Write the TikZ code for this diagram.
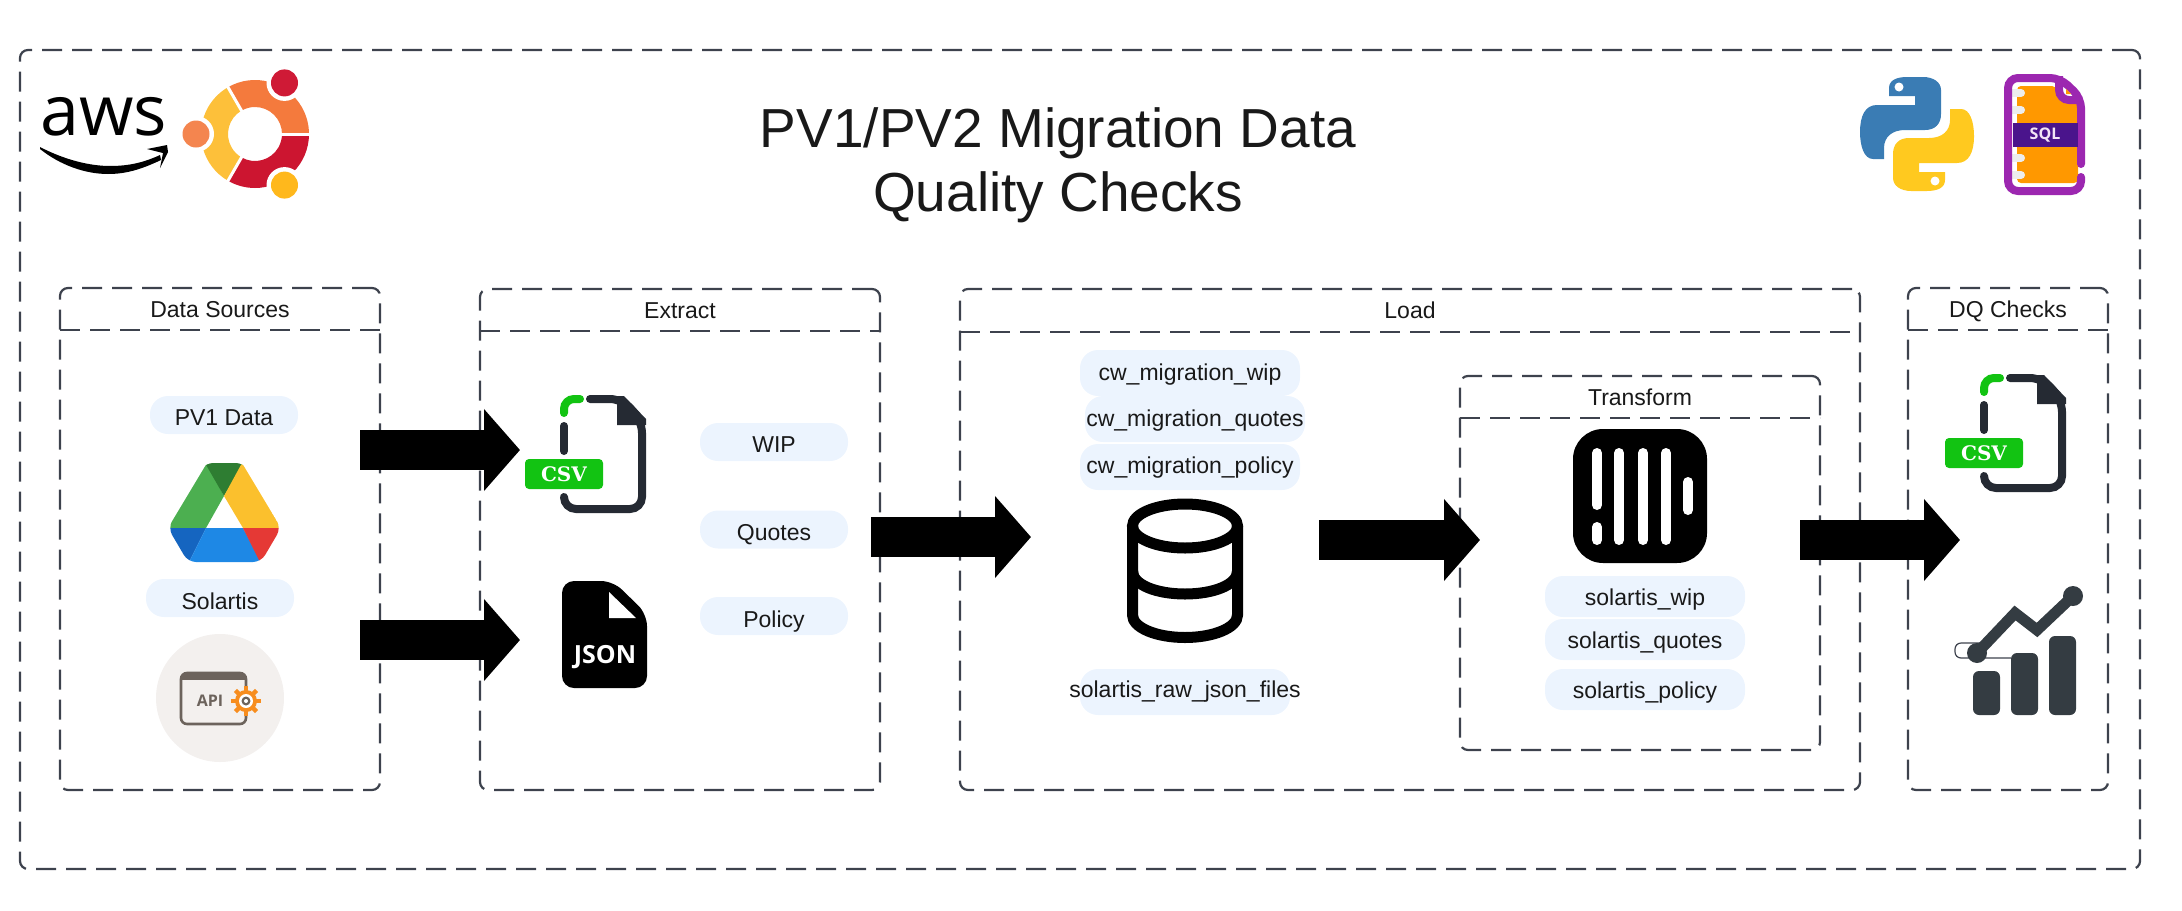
\documentclass[tikz,border=0pt]{standalone}
\usepackage{fontspec}
\setmainfont{Liberation Sans}
\newfontfamily\slabfont{DejaVu Serif}
\newfontfamily\logofont{Open Sans}
\usetikzlibrary{arrows.meta}

\definecolor{dashgrey}{HTML}{3D424D}
\definecolor{pillblue}{HTML}{ECF4FE}
\definecolor{csvgreen}{HTML}{12C312}
\definecolor{csvdark}{HTML}{252A33}
\definecolor{chartdark}{HTML}{343C42}
\definecolor{apibrown}{HTML}{6C635C}
\definecolor{apibg}{HTML}{F3F0EE}
\definecolor{gearorange}{HTML}{F78D1E}
\definecolor{sqlorange}{HTML}{FF9800}

\tikzset{
  panel/.style={draw=dashgrey, line width=1.1pt, dash pattern=on 10pt off 5pt, rounded corners=4pt, inner sep=0pt},
  divider/.style={draw=dashgrey, line width=1.1pt, dash pattern=on 10pt off 5pt},
  pill/.style={fill=pillblue, rounded corners=9pt, inner sep=0pt, text depth=0pt, font=\fontsize{11.5}{13}\selectfont, text=black!90},
  panelhead/.style={inner sep=0pt, text height=8pt, text depth=0pt, font=\fontsize{11.5}{13}\selectfont, text=black!90},
  flow/.style={black, line width=20pt, -{Triangle[length=18pt,width=40pt]}},
}

\newcommand{\csvicon}[3]{
  \begin{scope}[shift={(#1,#2)}]
    \draw[csvgreen, line width=4pt, line cap=round, rounded corners=5pt] (4,18) -- (4,4) -- (20,4);
    \draw[csvdark, line width=4pt, line cap=round] (4,31) -- (4,56);
    \draw[csvdark, line width=4pt, line cap=round, rounded corners=6pt] (30,4) -- (62,4) -- (82,26) -- (82,114) -- (4,114) -- (4,102);
    \fill[csvdark] (57,1) -- (64,1) -- (86,24) -- (86,30) -- (57,30) -- cycle;
    \node[fill=csvgreen, rounded corners=2pt, minimum width=39pt, minimum height=15pt, inner sep=0pt, text=white, font=\slabfont\bfseries\fontsize{10}{12}\selectfont] (#3) at (4,79) {CSV};
  \end{scope}
}

\begin{document}
\begin{tikzpicture}[x=.5pt, y=-.5pt]
  \useasboundingbox (0,0) rectangle (2182,910);

  % outer frame and title
  \node[panel, minimum width=1060pt, minimum height=409.5pt] (frame) at (1080,459.5) {};
  \node[align=center, font=\fontsize{27.5}{32}\selectfont, text=black!90] (title) at (1058,165) {PV1/PV2 Migration Data\\Quality Checks};

  % panels with their header line
  \foreach \nm/\xa/\ya/\xb/\yb/\yd/\ttl in {
    src/60/288/380/790/330/Data Sources,
    extract/480/289/880/790/331/Extract,
    load/960/289/1860/790/332/Load,
    transform/1460/376/1820/750/418/Transform,
    dq/1908/288/2108/790/330/DQ Checks}{
    \pgfmathsetmacro{\panelw}{(\xb-\xa)/2}
    \pgfmathsetmacro{\panelh}{(\yb-\ya)/2}
    \node[panel, minimum width=\panelw pt, minimum height=\panelh pt] (\nm) at ({(\xa+\xb)/2},{(\ya+\yb)/2}) {};
    \coordinate (\nm-l) at (\xa,\yd);
    \coordinate (\nm-r) at (\xb,\yd);
    \draw[divider] (\nm-l) -- (\nm-r);
    \node[panelhead] (\nm-head) at ({(\xa+\xb)/2},{(\ya+\yd)/2}) {\ttl};
  }

  % labels, the text may run past its pill
  \foreach \nm/\px/\py/\pw/\ph/\bl/\tx in {
    pvone/224/415/74/19/10/PV1 Data,
    solartis/220/598/74/19/11/Solartis,
    wip/774/442/74/19/10/WIP,
    quotes/774/529.5/74/19/10.5/Quotes,
    policy/774/616/74/19/11/Policy,
    cwwip/1190/373/110/23/7/cw\_migration\_wip,
    cwquotes/1195/419/110/23/7/cw\_migration\_quotes,
    cwpolicy/1190/467/110/23/6.5/cw\_migration\_policy,
    rawjson/1185/692/105/23/5.5/solartis\_raw\_json\_files,
    solwip/1645/596.5/100/20.5/8.5/solartis\_wip,
    solquotes/1645/639.5/100/20.5/8.5/solartis\_quotes,
    solpolicy/1645/689.5/100/20.5/8.5/solartis\_policy}{
    \node[pill, minimum width=\pw pt, minimum height=\ph pt, text height=\bl pt] (\nm) at (\px,\py) {\makebox[0pt]{\tx}};
  }

  % aws
  \node[anchor=base, inner sep=0pt, font=\logofont\fontsize{35}{35}\selectfont] (aws) at (104,135) {aws};
  \fill (40,147) .. controls (65,160) and (90,166) .. (110,166) .. controls (130,166) and (145,162) .. (160,155)
    -- (161,160) .. controls (140,170) and (125,174) .. (108,174) .. controls (85,174) and (60,165) .. (40,149) -- cycle;
  \fill (147,149) -- (167,145) -- (168,152) -- (160,168) -- (163,153) -- cycle;

  % ubuntu
  \begin{scope}[shift={(255,134)}]
    \foreach \a/\b/\col in {-120/0/F47A3D, -240/-120/FDC03A, 0/120/CC1530}{
      \definecolor{seg}{HTML}{\col}
      \fill[seg] (\a:54) arc[start angle=\a, end angle=\b, radius=54] -- (\b:27) arc[start angle=\b, end angle=\a, radius=27] -- cycle;
    }
    \foreach \a in {0,120,240}{
      \draw[white, line width=1.5pt] (\a:25) -- (\a:56);
    }
    \foreach \a/\col in {-60/CF1A36, 180/F4854F, 60/FFB81C}{
      \definecolor{seg}{HTML}{\col}
      \fill[white] (\a:59) circle (18);
      \fill[seg] (\a:59) circle (13.5);
    }
  \end{scope}

  % python
  \foreach \rot/\col in {0/3A7CB4, 180/FFC91F}{
    \definecolor{seg}{HTML}{\col}
    \begin{scope}[shift={(1917,134)}, rotate=\rot]
      \fill[seg] (-28,-38) -- (-28,-46) .. controls (-28,-54) and (-20,-57) .. (-10,-57) -- (6,-57)
        .. controls (16,-57) and (24,-52) .. (24,-44) -- (24,-20) .. controls (24,-10) and (18,-4) .. (8,-4)
        -- (-12,-4) .. controls (-25,-4) and (-33,3) .. (-33,14) -- (-33,25) -- (-44,25)
        .. controls (-53,25) and (-57,12) .. (-57,-2) .. controls (-57,-18) and (-52,-29) .. (-40,-29)
        -- (-2,-29) -- (-2,-38) -- cycle;
      \fill[white] (-18,-47) circle (4.5);
    \end{scope}
  }

  % sql file
  \begin{scope}[shift={(2004,74)}]
    \fill[white] (8,8) rectangle (74,114);
    \fill[sqlorange, rounded corners=2pt] (13,12) -- (52,12) -- (52,20) -- (60,28) -- (74,28) -- (74,109) -- (13,109) -- cycle;
    \foreach \ry in {19,36,84,101}{
      \draw[white!93!black, line width=4pt, line cap=round] (8,\ry) -- (17,\ry);
    }
    \definecolor{sqlpurple}{HTML}{9C27B0}
    \draw[sqlpurple, line width=4pt, line cap=round, rounded corners=5pt] (77,90) -- (77,24) -- (56,4) -- (4,4) -- (4,117) -- (77,117) -- (77,103);
    \draw[sqlpurple, line width=4pt, rounded corners=5pt] (55,2) -- (55,26) -- (78,26);
    \fill[sqlorange] (62,15) -- (67,20) -- (62,20) -- cycle;
    \definecolor{sqlband}{HTML}{4A148C}
    \node[fill=sqlband, minimum width=32.5pt, minimum height=12pt, inner sep=0pt, text=white!88!sqlpurple, font=\logofont\bfseries\fontsize{8}{9}\selectfont] (sqlbadge) at (41,61) {SQL};
  \end{scope}

  % csv files
  \csvicon{560}{395}{csvsrc}
  \csvicon{1980}{374}{csvout}

  % json file
  \fill[black, rounded corners=6pt] (562,581) -- (613,581) -- (647,614) -- (647,688) -- (562,688) -- cycle;
  \fill[white] (609,592) -- (636,618) -- (609,618) -- cycle;
  \node[text=white, font=\logofont\bfseries\fontsize{12.5}{14}\selectfont, inner sep=0pt] (jsonname) at (605,657) {JSON};

  % drive
  \begin{scope}[shift={(171,464)}]
    \clip[rounded corners=4pt] (34,-1) -- (73,-1) -- (110,64) -- (90,98) -- (17,98) -- (-3,64) -- cycle;
    \foreach \col/\pts in {
      4CAF50/{(36,-1) -- (53,32) -- (35,64) -- (-3,64)},
      2E7D32/{(34,-1) -- (73,-1) -- (53,32)},
      FBC02D/{(71,-1) -- (110,64) -- (72,64) -- (53,32)},
      1565C0/{(-3,64) -- (35,64) -- (18,98) -- (10,98)},
      1E88E5/{(35,64) -- (72,64) -- (90,98) -- (18,98)},
      E53935/{(72,64) -- (110,64) -- (100,98) -- (89,98)}}{
      \definecolor{seg}{HTML}{\col}
      \fill[seg] \pts -- cycle;
    }
  \end{scope}

  % api
  \fill[apibg] (220,698) circle (64);
  \begin{scope}[shift={(220,698)}]
    \draw[apibrown, line width=1.3pt, rounded corners=3pt] (26,17) -- (26,26) -- (-39,26) -- (-39,-25) -- (26,-25) -- (26,-10);
    \draw[apibrown, line width=3pt] (-38,-21) -- (25,-21);
    \node[text=apibrown, font=\logofont\bfseries\fontsize{8}{9}\selectfont, inner sep=0pt] (apiname) at (-10,3) {API};
    \begin{scope}[shift={(26,3)}]
      \foreach \a in {0,45,...,315}{
        \draw[gearorange, line width=2.2pt] (\a:9) -- (\a:15);
      }
      \fill[gearorange] (0,0) circle (11);
      \fill[white] (0,0) circle (7);
      \fill[apibrown] (0,0) circle (4.5);
      \fill[white] (0,0) circle (2);
    \end{scope}
  \end{scope}

  % database
  \begin{scope}[shift={(1185,0)}]
    \draw[black, line width=5.5pt] (0,526) ellipse (52.5 and 22);
    \draw[black, line width=5.5pt] (-52.5,526) -- (-52.5,615) .. controls (-52.5,628) and (-28,637.5) .. (0,637.5) .. controls (28,637.5) and (52.5,628) .. (52.5,615) -- (52.5,526);
    \draw[black, line width=5.5pt] (-52.5,571) .. controls (-52.5,585) and (-28,594) .. (0,594) .. controls (28,594) and (52.5,585) .. (52.5,571);
  \end{scope}

  % transform logo
  \fill[black, rounded corners=15pt] (1573,429) rectangle (1707,563);
  \begin{scope}[shift={(1573,429)}]
    \foreach \xa/\ya/\yb in {19/19/81, 19/93/116, 41/19/116, 65/19/116, 88/19/116, 110/48/86}{
      \draw[white, line width=5pt, line cap=round] (\xa+5,\ya+5) -- (\xa+5,\yb-5);
    }
  \end{scope}

  % chart
  \draw[dashgrey, line width=.6pt, rounded corners=3pt] (2011,658) -- (1955,658) -- (1955,643) -- (1987,643);
  \foreach \xa/\ya in {1973/671, 2011/653, 2049/636}{
    \fill[chartdark, rounded corners=3pt] (\xa,\ya) rectangle (\xa+27,715);
  }
  \draw[chartdark, line width=5.5pt, line join=miter] (1977,653) -- (2015,613) -- (2037,630) -- (2073,596);
  \fill[chartdark] (1977,653) circle (10) (2073,596) circle (10);

  % flow arrows
  \foreach \nm/\xa/\xb/\yy in {fa/360/520/450, fb/360/520/640, fc/871/1031/537, fd/1319/1480/540, fe/1800/1960/540}{
    \coordinate (\nm-s) at (\xa,\yy);
    \coordinate (\nm-e) at (\xb,\yy);
    \draw[flow] (\nm-s) -- (\nm-e);
  }
\end{tikzpicture}
\end{document}
